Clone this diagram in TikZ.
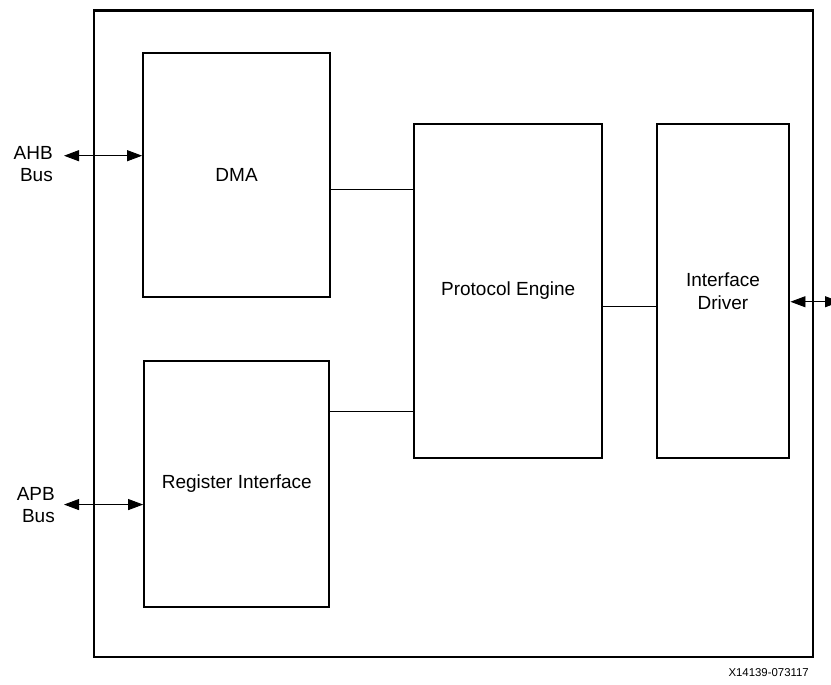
\documentclass[tikz,border=0pt]{standalone}
\usepackage{fontspec}
\setmainfont{Liberation Sans}
\usetikzlibrary{positioning}
\usetikzlibrary{calc}
\usetikzlibrary{arrows.meta}
\colorlet{block colour}{black}
\colorlet{wire colour}{black}
\tikzset{
    % Plain solid heads, as on the bus ports
    >={Triangle[length=15pt, width=11pt]},
%
    % Lines
    bus/.style={color=wire colour, line width=0.9pt, <->},
    link/.style={color=wire colour, line width=0.9pt},
%
    % We almost always want centre aligned node text
    every node/.style={align=center},
}

\begin{document}
\begin{tikzpicture}[
    block/.style={draw=block colour, rectangle, line width=2.3pt,
        font=\fontsize{19}{23}\selectfont},
    port label/.style={anchor=east, align=right, inner sep=0,
        font=\fontsize{19}{22}\selectfont},
    id label/.style={anchor=east, inner sep=0, font=\fontsize{11.4}{13}\selectfont},
    x=1pt, y=-1pt,
]

\useasboundingbox (0,0) rectangle (831,685);

\path
    (453.5,333.6) node (chip) [block, minimum width=719.6pt, minimum height=646.2pt] {}
    (236.6,174.9) node (dma) [block, minimum width=186.7pt, minimum height=243.7pt] {DMA}
    (236.8,483.7) node (reg) [block, minimum width=185pt, minimum height=246pt] {Register Interface}
    (508.2,291) node (engine) [block, minimum width=187.9pt, minimum height=333.4pt] {Protocol Engine}
    (723,291) node (driver) [block, minimum width=132.6pt, minimum height=333.4pt] {Interface\\Driver};

\path
    (53,164.2) node (ahb) [port label] {AHB\\Bus}
    (55,505.3) node (apb) [port label] {APB\\Bus}
    (809,673) node (fig id) [id label] {X14139-073117};

% Internal links
\path ($(dma.north east)!0.56!(dma.south east)$) coordinate (dma out);
\path ($(reg.north east)!0.207!(reg.south east)$) coordinate (reg out);
\path ($(engine.north east)!0.545!(engine.south east)$) coordinate (engine out);
\draw [link] (dma out) -- (engine.west |- dma out);
\draw [link] (reg out) -- (engine.west |- reg out);
\draw [link] (engine out) -- (driver.west |- engine out);

% Bus ports
\path ($(dma.north west)!0.422!(dma.south west)$) coordinate (ahb port);
\path ($(reg.north west)!0.584!(reg.south west)$) coordinate (apb port);
\path ($(driver.north east)!0.532!(driver.south east)$) coordinate (pins port);
\path (64,0 |- ahb port) coordinate (ahb end);
\path (64,0 |- apb port) coordinate (apb end);
\path (840,0 |- pins port) coordinate (pins end);
\draw [bus] (ahb end) -- (ahb port);
\draw [bus] (apb end) -- (apb port);
\draw [bus] (pins port) -- (pins end);

\end{tikzpicture}
\end{document}
